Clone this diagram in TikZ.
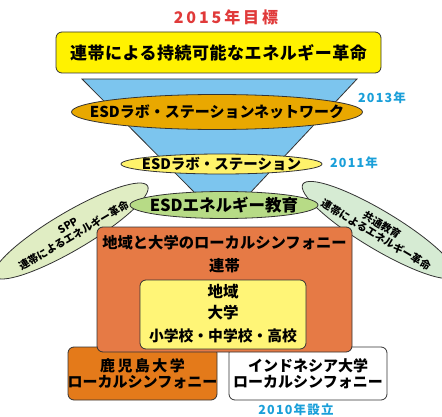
\documentclass[tikz,border=0pt]{standalone}
\usepackage{fontspec}
\setmainfont{Noto Sans CJK JP}
\usetikzlibrary{shapes.geometric}
\definecolor{cRed}{HTML}{E03A3A}
\definecolor{cBlueT}{HTML}{1A9FD9}
\definecolor{cYel}{HTML}{FFF200}
\definecolor{cFun}{HTML}{7CC5EE}
\definecolor{cGold}{HTML}{E9A800}
\definecolor{cLYel}{HTML}{FFF36B}
\definecolor{cGreen}{HTML}{B7DB86}
\definecolor{cPaleL}{HTML}{E0EDC3}
\definecolor{cPaleR}{HTML}{D6EBD3}
\definecolor{cOrg}{HTML}{E67A45}
\definecolor{cInYel}{HTML}{FFF577}
\definecolor{cOrg2}{HTML}{E47A1A}
\definecolor{cLine}{HTML}{333333}
\newcommand{\lsp}[1]{\addfontfeature{LetterSpace=#1}}
\tikzset{
  outl/.style={draw=cLine, line width=0.8pt},
  rbox/.style={outl, rounded corners=6pt, inner sep=0pt},
  ell/.style={outl, ellipse, inner sep=0pt},
  lab/.style={font=\bfseries\fontsize{#1}{#1}\selectfont, text=black, align=center},
  yr/.style={font=\bfseries\fontsize{12.5}{12.5}\selectfont\lsp{10}, text=cBlueT},
}
\begin{document}
\begin{tikzpicture}[x=1pt,y=-1pt]
\useasboundingbox (0,0) rectangle (442,417);
% goal
\node[font=\bfseries\fontsize{16}{16}\selectfont\lsp{18}, text=cRed] (goal) at (226,17) {2015年目標};
\node[rbox, fill=cYel, minimum width=325, minimum height=41] (top) at (218.5,52.5) {};
\node[lab=17] (toptxt) at (top.center) {\lsp{3}連帯による持続可能なエネルギー革命};
% funnel
\filldraw[fill=cFun, draw=cLine, line width=0.8pt] (82,79) -- (357,79) -- (250,193) -- (195,193) -- cycle;
\node[ell, fill=cGold, minimum width=291, minimum height=35] (net) at (217,112) {};
\node[lab=15] at (net.center) {ESDラボ・ステーションネットワーク};
\node[yr] (y2013) at (382,98) {2013年};
\node[ell, fill=cLYel, minimum width=201, minimum height=20] (sta) at (221.5,164) {};
\node[lab=14.5] at (sta.center) {ESDラボ・ステーション};
\node[yr] (y2011) at (354,163) {2011年};
% tilted ellipses
\node[ell, fill=cPaleL, minimum width=154, minimum height=38, rotate=30.5, lab=10.5] (spp) at (71,231) {SPP\\[1pt]連帯によるエネルギー革命};
\node[ell, fill=cPaleR, minimum width=150, minimum height=38, rotate=-31, lab=10.5] (kyo) at (379,230) {共通教育\\[1pt]連帯によるエネルギー革命};
\node[ell, fill=cGreen, minimum width=188, minimum height=27] (edu) at (224,205) {};
\node[lab=16.5] at (edu.center) {ESDエネルギー教育};
% bottom boxes
\node[rbox, fill=cOrg2, minimum width=149, minimum height=53] (kago) at (142.5,373.5) {};
\node[lab=15] at (kago.center) {{\lsp{16}鹿児島大学}\\[1pt]ローカルシンフォニー};
\node[rbox, fill=white, minimum width=158, minimum height=53] (indo) at (308,373.5) {};
\node[lab=15] at (indo.center) {インドネシア大学\\[1pt]ローカルシンフォニー};
\node[yr] (y2010) at (296,410) {2010年設立};
% big orange
\node[rbox, fill=cOrg, minimum width=255, minimum height=125] (big) at (224.5,289.5) {};
\node[lab=15.3] (bigt) at (224.5,243) {地域と大学のローカルシンフォニー};
\node[lab=15.3] (ren) at (224.5,266) {連帯};
\node[rbox, fill=cInYel, minimum width=166, minimum height=69] (inner) at (223,314.5) {};
\node[lab=15.5] at (223,292) {地域};
\node[lab=15.5] at (223,313) {大学};
\node[lab=14.8] at (223,336) {小学校・中学校・高校};
\end{tikzpicture}
\end{document}
